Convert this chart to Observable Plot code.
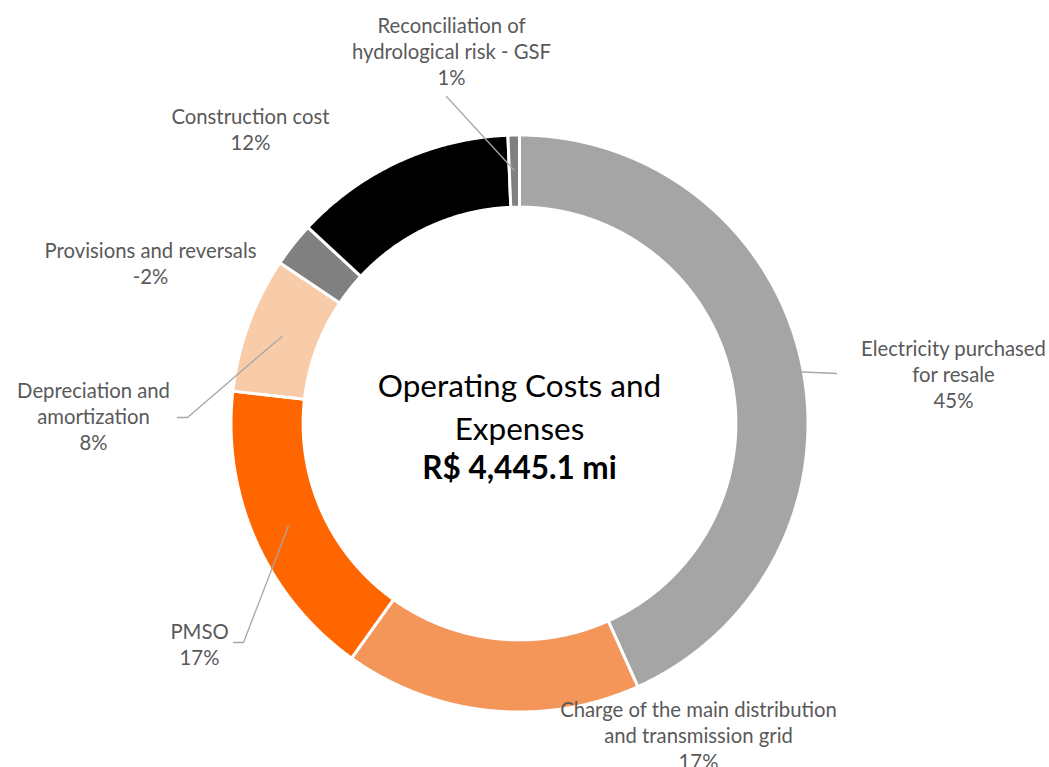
<!DOCTYPE html>
<html><head><meta charset="utf-8">
<script src="https://cdn.jsdelivr.net/npm/d3@7"></script>
<script src="https://cdn.jsdelivr.net/npm/@observablehq/plot@0.6"></script>
<style>html,body{margin:0;padding:0;background:#fff;overflow:hidden} svg{display:block}</style>
</head><body><div id="chart"></div>
<script>
// ---- data ----
const categories = [
  "Electricity purchased\nfor resale",
  "Charge of the main distribution\nand transmission grid",
  "PMSO",
  "Depreciation and\namortization",
  "Provisions and reversals",
  "Construction cost",
  "Reconciliation of\nhydrological risk - GSF"
];
const values = [2025, 777, 791, 356, -117, 583, 30];        // R$ mi (estimated)
const percentLabels = ["45%", "17%", "17%", "8%", "-2%", "12%", "1%"];
const colors = ["#a5a5a5", "#f4955a", "#ff6600", "#f9cca9", "#808080", "#000000", "#808080"];
const centerTitle = "Operating Costs and\nExpenses";
const centerTotal = "R$ 4,445.1 mi";

// ---- layout ----
const W = 1049, H = 767;
const CX = 519, CY = 423, RPX = 288.5;      // donut centre / outer radius in px
const INNER = 0.75;                           // inner radius ratio
const px = (x) => (x - CX) / RPX;
const py = (y) => (CY - y) / RPX;
const FS = 20.3, LH = 26;
// label anchor positions (px)
const labelPos = [[953, 373], [698, 734], [199, 643], [93, 415], [150, 262], [250, 128], [451, 50]];
// leader elbows / ends (px), null = no leader
const leaderEnds = [
  [[836, 373]],
  null,
  [[243, 642], [233, 642]],
  [[187, 417], [177, 417]],
  null,
  null,
  [[446, 96]]
];

const pie = d3.pie().sort(null).value(d => Math.abs(d)).startAngle(0).endAngle(2 * Math.PI);
const arcs = pie(values);

const sliceRows = [];
arcs.forEach((a, i) => {
  const n = Math.max(2, Math.ceil((a.endAngle - a.startAngle) / 0.004));
  for (let k = 0; k <= n; k++) {
    const t = a.startAngle + (a.endAngle - a.startAngle) * k / n;
    sliceRows.push({i, x: Math.sin(t), y: Math.cos(t), color: colors[i]});
  }
  for (let k = n; k >= 0; k--) {
    const t = a.startAngle + (a.endAngle - a.startAngle) * k / n;
    sliceRows.push({i, x: INNER * Math.sin(t), y: INNER * Math.cos(t), color: colors[i]});
  }
});

const leaderRows = [];
arcs.forEach((a, i) => {
  if (!leaderEnds[i]) return;
  const m = (a.startAngle + a.endAngle) / 2, r = 0.877;
  leaderRows.push({i, x: r * Math.sin(m), y: r * Math.cos(m)});
  leaderEnds[i].forEach(([X, Y]) => leaderRows.push({i, x: px(X), y: py(Y)}));
});

const labelRows = categories.map((c, i) => ({
  text: c + "\n" + percentLabels[i], x: px(labelPos[i][0]), y: py(labelPos[i][1])
}));

const chart = Plot.plot({
  width: W, height: H,
  marginLeft: CX - RPX, marginRight: W - (CX + RPX),
  marginTop: CY - RPX, marginBottom: H - (CY + RPX),
  x: {domain: [-1, 1], axis: null},
  y: {domain: [-1, 1], axis: null},
  color: {type: "identity"},
  style: {fontFamily: "Lato, 'Open Sans', sans-serif", background: "#fff", overflow: "hidden"},
  marks: [
    Plot.line(sliceRows, {x: "x", y: "y", z: "i", fill: "color", stroke: "#fff", strokeWidth: 3,
      strokeLinejoin: "miter", curve: "linear-closed"}),
    Plot.line(leaderRows, {x: "x", y: "y", z: "i", stroke: "#a6a6a6", strokeWidth: 1.3, strokeLinejoin: "miter"}),
    Plot.text(labelRows, {x: "x", y: "y", text: "text", textAnchor: "middle", lineAnchor: "middle",
      fontSize: FS, lineHeight: LH / FS, fill: "#595959"}),
    Plot.text([centerTitle], {x: 0, y: py(404), text: d => d, textAnchor: "middle", lineAnchor: "middle",
      fontSize: 31.5, lineHeight: 43 / 31.5, fill: "#000"}),
    Plot.text([centerTotal], {x: 0, y: py(468), text: d => d, textAnchor: "middle", lineAnchor: "middle",
      fontSize: 31.5, fontWeight: "bold", fill: "#000"})
  ]
});
document.getElementById("chart").appendChild(chart);
</script>
</body></html>
